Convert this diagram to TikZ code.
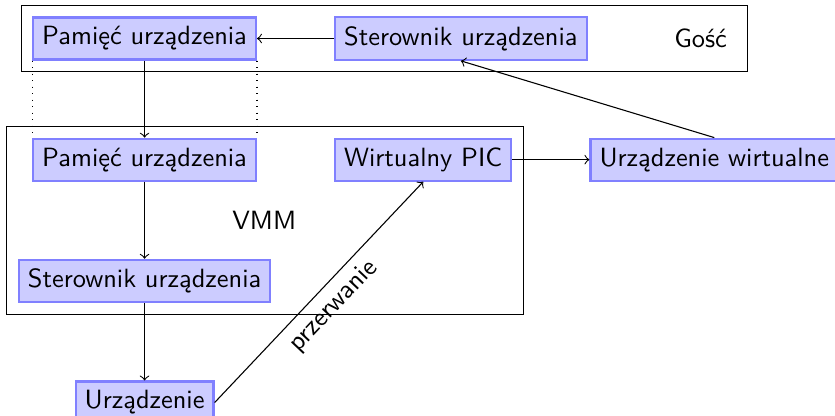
\documentclass[tikz,border=0pt]{standalone}
\usepackage{fontspec}
\usetikzlibrary{positioning,fit,calc}

\begin{document}
\begin{tikzpicture}[
	node distance=1cm and 1cm,
	font=\sffamily\fontsize{9.75}{12}\selectfont,
	mynode/.style={draw=blue!50,fill=blue!20,thick},
	myframe/.style={draw,inner sep=4pt}
	]
	\useasboundingbox (0,0) rectangle (10.84,-5.40);
	\node[mynode] (pamiecg) at (1.877,-0.5) {Pamięć urządzenia};
	\node[mynode,right = of pamiecg] (sterg) {Sterownik urządzenia};
	\node[right = of sterg] (gosc) {Gość};
	\node[mynode,below = of pamiecg] (pamiecv) {Pamięć urządzenia};
	\node[mynode,right = of pamiecv] (pic) {Wirtualny PIC};
	\node[mynode,right = of pic] (urzw) {Urządzenie wirtualne};
	\node[mynode,below = of pamiecv] (sterv) {Sterownik urządzenia};
	\node[mynode,below = of sterv] (urz) {Urządzenie};
	\node (vmm) at ($(pamiecv.east)!0.5!(sterv.east)$) {VMM};
	\node[myframe,fit=(pamiecg)(sterg)(gosc)] (goscframe) {};
	\node[myframe,fit=(pamiecv)(pic)(sterv)] (vmmframe) {};
	\draw[dotted] (pamiecg.south west) -- (pamiecv.north west);
	\draw[dotted] (pamiecg.south east) -- (pamiecv.north east);
	\path [->]
	(sterg) edge (pamiecg)
	(pamiecg) edge (pamiecv)
	(pamiecv) edge (sterv)
	(sterv) edge (urz)
	(pic) edge (urzw)
	(urzw.north) edge (sterg.south)
	(urz.east) edge node[sloped,below] {przerwanie} (pic.south);
\end{tikzpicture}
\end{document}
